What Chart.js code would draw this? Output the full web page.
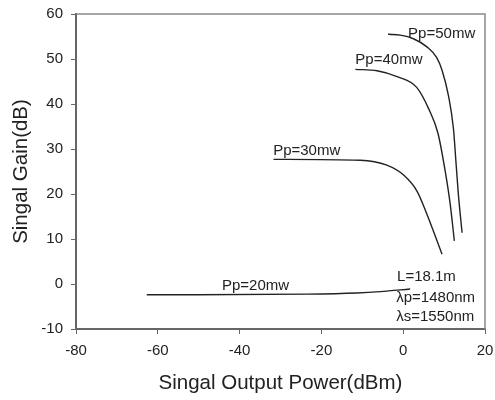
<!DOCTYPE html>
<html>
<head>
<meta charset="utf-8">
<script src="https://cdn.jsdelivr.net/npm/chart.js@4"></script>
<style>
  html, body { margin: 0; padding: 0; background: #fff; }
  #wrap { width: 495px; height: 400px; }
</style>
</head>
<body>
<div id="wrap"><canvas id="gainChart" width="495" height="400"></canvas></div>
<script>
// curves: output power (dBm) vs gain (dB)
const x20 = [-62.7, -23.5, -11.3, -5.6, 1.7];
const y20 = [-2.4, -2.25, -2.0, -1.7, -1.1];

const x30 = [-31.7, -10.5, -4, 0.1, 3.4, 5.8, 9.5];
const y30 = [27.7, 27.5, 26.4, 24.2, 20.6, 15.5, 6.6];

const x40 = [-11.7, -6.4, -1.5, 3.3, 6.3, 8.5, 10.3, 11.5, 12.5];
const y40 = [47.7, 47.4, 46.1, 43.7, 38.8, 33.5, 24.9, 17.7, 9.6];

const x50 = [-3.7, -0.7, 2.5, 5.8, 8.2, 9.5, 11.1, 12.3, 12.9, 13.5, 14.4];
const y50 = [55.5, 55.3, 54.5, 52.7, 50.3, 47.5, 41.7, 34.4, 27.1, 19.8, 11.4];

const xTicks = [-80, -60, -40, -20, 0, 20];
const yTicks = [-10, 0, 10, 20, 30, 40, 50, 60];

// text notes on the plot (data coords, left edge / middle)
const noteText = ['Pp=50mw', 'Pp=40mw', 'Pp=30mw', 'Pp=20mw', 'L=18.1m', 'λp=1480nm', 'λs=1550nm'];
const noteX = [1.2, -11.7, -31.8, -44.3, -1.5, -1.7, -1.7];
const noteY = [55.6, 49.7, 29.5, -0.4, 1.5, -3.1, -7.4];

const toPts = (xs, ys) => xs.map((x, i) => ({ x: x, y: ys[i] }));

function curve(xs, ys) {
    return {
        data: toPts(xs, ys),
        showLine: true,
        borderColor: '#222',
        borderWidth: 1.4,
        pointRadius: 0,
        cubicInterpolationMode: 'monotone',
        fill: false
    };
}

const framePlugin = {
    id: 'frame',
    afterDraw(chart) {
        const { ctx, chartArea: a, scales } = chart;
        ctx.save();
        // top + right edges of the box
        ctx.strokeStyle = '#8a8a8a';
        ctx.lineWidth = 1.5;
        ctx.beginPath();
        ctx.moveTo(a.left, a.top);
        ctx.lineTo(a.right, a.top);
        ctx.lineTo(a.right, a.bottom);
        ctx.stroke();
        // notes
        ctx.fillStyle = '#222';
        ctx.font = '15px "Liberation Sans", Arial, sans-serif';
        ctx.textAlign = 'left';
        ctx.textBaseline = 'middle';
        noteText.forEach((t, i) => {
            ctx.fillText(t, scales.x.getPixelForValue(noteX[i]), scales.y.getPixelForValue(noteY[i]));
        });
        ctx.restore();
    }
};

Chart.defaults.font.family = '"Liberation Sans", Arial, sans-serif';
Chart.defaults.color = '#222';

new Chart(document.getElementById('gainChart'), {
    type: 'scatter',
    data: {
        datasets: [curve(x20, y20), curve(x30, y30), curve(x40, y40), curve(x50, y50)]
    },
    options: {
        responsive: false,
        animation: false,
        layout: { padding: { top: 14, right: 10, left: 0, bottom: 0 } },
        plugins: { legend: { display: false }, tooltip: { enabled: false } },
        scales: {
            x: {
                type: 'linear', min: -80, max: 20,
                afterBuildTicks: s => { s.ticks = xTicks.map(v => ({ value: v })); },
                afterFit: s => { s.height = 71; s.paddingLeft = 0; s.paddingRight = 0; },
                grid: { display: true, drawOnChartArea: false, drawTicks: true, tickLength: 5, color: '#666' },
                border: { display: true, color: '#666', width: 2 },
                ticks: { font: { size: 15 }, color: '#222', padding: 8, maxRotation: 0 },
                title: { display: true, text: 'Singal Output Power(dBm)', font: { size: 20.5 }, color: '#222', padding: { top: 0, bottom: 4 } }
            },
            y: {
                type: 'linear', min: -10, max: 60,
                afterBuildTicks: s => { s.ticks = yTicks.map(v => ({ value: v })); },
                afterFit: s => { s.width = 76; s.paddingTop = 0; s.paddingBottom = 0; },
                grid: { display: true, drawOnChartArea: false, drawTicks: true, tickLength: 5, color: '#666' },
                border: { display: true, color: '#666', width: 2 },
                ticks: { font: { size: 15 }, color: '#222', padding: 8 },
                title: { display: true, text: 'Singal Gain(dB)', font: { size: 20.5 }, color: '#222', padding: { top: 9, bottom: 0 } }
            }
        }
    },
    plugins: [framePlugin]
});
</script>
</body>
</html>
